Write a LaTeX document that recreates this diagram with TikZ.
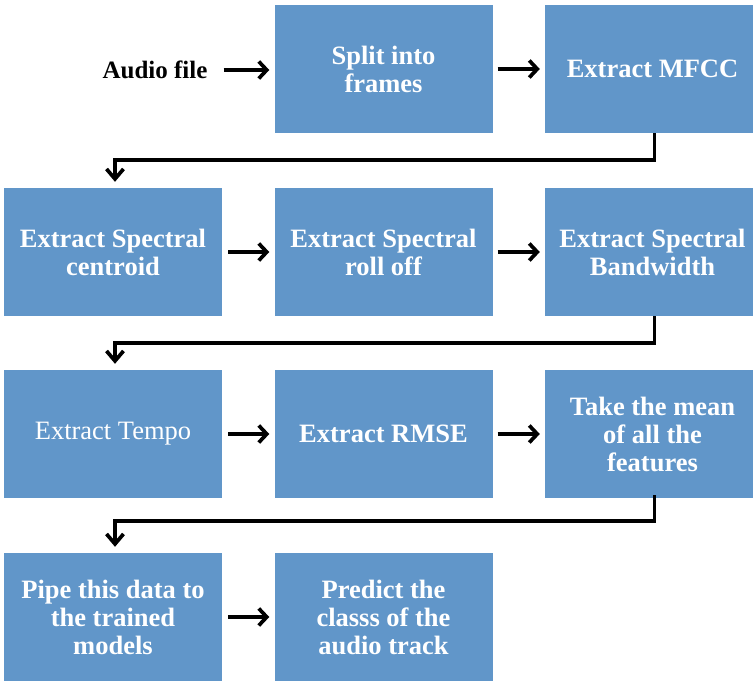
\documentclass[tikz,border=0pt]{standalone}
\usepackage{fontspec}
\setmainfont{Liberation Serif}
\usetikzlibrary{arrows.meta}
\definecolor{boxblue}{RGB}{97,150,201}
\begin{document}
\begin{tikzpicture}[x=1pt,y=-1pt,
  stepbox/.style={fill=boxblue, draw=none, minimum width=218pt, minimum height=128pt,
    inner sep=0pt, text=white, align=center, font=\fontsize{26.5}{28}\selectfont\bfseries},
  flow/.style={line width=3.7pt, -{Straight Barb[length=8pt,width=17pt,line width=3.7pt]}},
  turn/.style={line width=3.7pt, -{Straight Barb[length=10pt,width=17pt,line width=3.7pt]}}
]
\useasboundingbox (0,0) rectangle (753,681);

% row 1
\node[font=\fontsize{25}{27}\selectfont\bfseries, inner sep=0pt] (audio) at (155,70) {Audio file};
\node[stepbox] (split) at (383.5,69) {Split into\\frames};
\node[stepbox, minimum width=215pt] (mfcc) at (652.5,69) {Extract MFCC};

% row 2
\node[stepbox] (centroid) at (113,252) {Extract Spectral\\centroid};
\node[stepbox] (rolloff) at (383.5,252) {Extract Spectral\\roll off};
\node[stepbox, minimum width=215pt] (bandwidth) at (652.5,252) {Extract Spectral\\Bandwidth};

% row 3
\node[stepbox, font=\fontsize{26.5}{28}\selectfont] (tempo) at (113,434) {Extract Tempo};
\node[stepbox] (rmse) at (383.5,434) {Extract RMSE};
\node[stepbox, minimum width=215pt] (mean) at (652.5,434) {Take the mean\\of all the\\features};

% row 4
\node[stepbox] (pipe) at (113,617) {Pipe this data to\\the trained\\models};
\node[stepbox] (predict) at (383.5,617) {Predict the\\classs of the\\audio track};

% straight connectors
\draw[flow, shorten <=16pt, shorten >=5pt] (audio.east) -- (audio.east -| split.west);
\draw[flow, shorten <=5pt, shorten >=5pt] (split.east) -- (mfcc.west);
\draw[flow, shorten <=6pt, shorten >=5pt] (centroid.east) -- (rolloff.west);
\draw[flow, shorten <=5pt, shorten >=5pt] (rolloff.east) -- (bandwidth.west);
\draw[flow, shorten <=6pt, shorten >=5pt] (tempo.east) -- (rmse.west);
\draw[flow, shorten <=5pt, shorten >=5pt] (rmse.east) -- (mean.west);
\draw[flow, shorten <=6pt, shorten >=5pt] (pipe.east) -- (predict.west);

% row-to-row connectors
\draw[turn, shorten >=6pt] ([xshift=2pt]mfcc.south) -- ++(0,27) -| ([xshift=2pt]centroid.north);
\draw[turn, shorten >=6pt] ([xshift=2pt]bandwidth.south) -- ++(0,27) -| ([xshift=2pt]tempo.north);
\draw[turn, shorten >=6pt] ([xshift=2pt,yshift=3pt]mean.south) -- ++(0,26) -| ([xshift=2pt]pipe.north);
\end{tikzpicture}
\end{document}
